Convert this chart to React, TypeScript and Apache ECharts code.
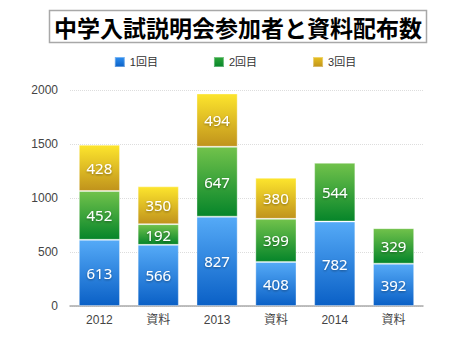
import React, { useEffect, useRef } from "react";
import * as echarts from "echarts";

const categories = ["2012", "資料", "2013", "資料", "2014", "資料"];
const round1 = [613, 566, 827, 408, 782, 392];
const round2 = [452, 192, 647, 399, 544, 329];
const round3: (number | null)[] = [428, 350, 494, 380, null, null];
const seriesNames = ["1回目", "2回目", "3回目"];
const yTicks = { min: 0, max: 2000, interval: 500 };

const FONT = "'Liberation Sans', Arial, 'Noto Sans CJK JP', sans-serif";

function grad(top: string, bottom: string) {
  return new echarts.graphic.LinearGradient(0, 0, 0, 1, [
    { offset: 0, color: top },
    { offset: 1, color: bottom },
  ]);
}

export default function App() {
  const ref = useRef<HTMLDivElement>(null);
  useEffect(() => {
    if (!ref.current) return;
    const chart = echarts.init(ref.current, undefined, { renderer: "svg" });
    const label = {
      show: true,
      position: "inside" as const,
      color: "#fff",
      fontSize: 15,
      fontFamily: "'Noto Sans', sans-serif",
      textShadowColor: "rgba(0,0,0,0.4)",
      textShadowBlur: 2,
      textShadowOffsetY: 1,
    };
    const colors = [
      ["#55aaf7", "#0a60c6", "#2f8ff0"],
      ["#71c24b", "#06852a", "#2ea63a"],
      ["#fde52d", "#c0931c", "#e8c020"],
    ];
    const datas = [round1, round2, round3];
    chart.setOption({
      animation: false,
      textStyle: { fontFamily: FONT },
      graphic: [
        {
          type: "rect",
          shape: { x: 49.5, y: 10.5, width: 377, height: 32 },
          style: { fill: "#fff", stroke: "#a8a8a8", lineWidth: 1.5 },
        },
        {
          type: "text",
          x: 238,
          y: 27,
          style: {
            text: "中学入試説明会参加者と資料配布数",
            fontSize: 23,
            fontWeight: "bold",
            fontFamily: "'Noto Sans CJK JP', sans-serif",
            fill: "#000",
            align: "center",
            verticalAlign: "middle",
          },
        },
      ],
      legend: {
        top: 51,
        left: "center",
        itemWidth: 10,
        itemHeight: 10,
        itemGap: 55,
        icon: "rect",
        textStyle: { fontSize: 11, color: "#333", fontFamily: FONT },
        data: seriesNames.map((n, i) => ({
          name: n,
          itemStyle: { color: grad(colors[i][2], colors[i][1]) },
        })),
      },
      grid: { left: 70, right: 47, top: 90, bottom: 47 },
      xAxis: {
        type: "category",
        data: categories,
        axisLine: { lineStyle: { color: "#aaa", width: 1.5 } },
        axisTick: { show: false },
        axisLabel: { color: "#444", fontSize: 12, margin: 8 },
      },
      yAxis: {
        type: "value",
        min: yTicks.min,
        max: yTicks.max,
        interval: yTicks.interval,
        axisLine: { show: false },
        axisTick: { show: false },
        axisLabel: { color: "#444", fontSize: 12, margin: 12, formatter: (v: number) => String(v) },
        splitLine: { lineStyle: { color: "#ddd", type: "dotted", width: 1 } },
      },
      series: datas.map((d, i) => ({
        name: seriesNames[i],
        type: "bar",
        stack: "total",
        barWidth: "70%",
        data: d,
        label,
        itemStyle: {
          color: grad(colors[i][0], colors[i][1]),
          borderColor: "rgba(255,255,255,0.35)",
          borderWidth: 1,
        },
      })),
    });
    return () => chart.dispose();
  }, []);
  return (
    <div
      ref={ref}
      style={{ position: "fixed", left: 0, top: 0, width: 470, height: 353, background: "#fff" }}
    />
  );
}
